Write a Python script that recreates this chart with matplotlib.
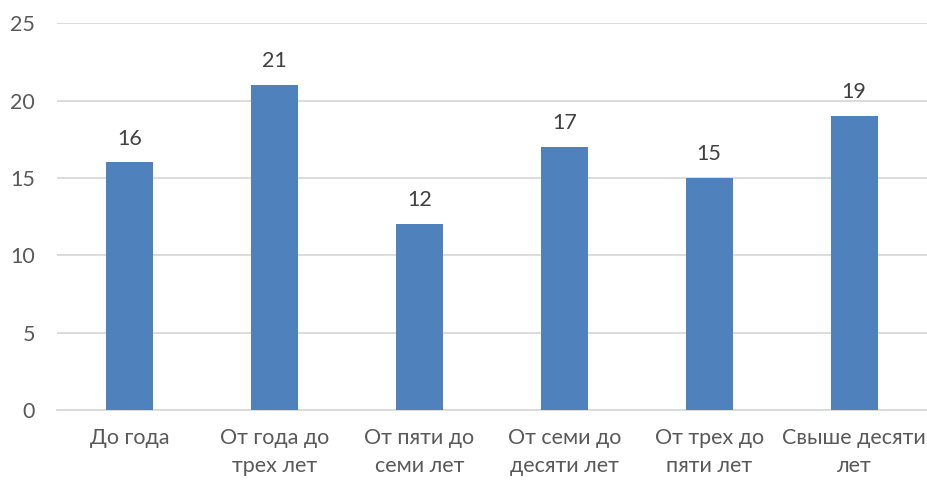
import matplotlib.pyplot as plt
import numpy as np

plt.rcParams["font.family"] = ["Lato", "DejaVu Sans"]

categories = [
    "До года",
    "От года до\nтрех лет",
    "От пяти до\nсеми лет",
    "От семи до\nдесяти лет",
    "От трех до\nпяти лет",
    "Свыше десяти\nлет",
]
values = [16, 21, 12, 17, 15, 19]
y_ticks = [0, 5, 10, 15, 20, 25]

bar_color = "#4F81BD"
text_color = "#595959"
grid_color = "#D9D9D9"

fig = plt.figure(figsize=(9.28, 4.84), dpi=100)
ax = fig.add_axes([0.0615, 0.153, 0.937, 0.799])

x = np.arange(len(categories))
bars = ax.bar(x, values, width=0.325, color=bar_color, zorder=3)

for rect, v in zip(bars, values):
    ax.annotate(str(v), (rect.get_x() + rect.get_width() / 2, v),
                xytext=(0, 10), textcoords="offset points",
                ha="center", va="bottom", fontsize=15.5, color="#404040")

ax.set_xlim(-0.5, len(categories) - 0.5)
ax.set_ylim(0, 25)
ax.set_yticks(y_ticks)
ax.set_xticks(x)
ax.set_xticklabels(categories, fontsize=15.5, color=text_color, linespacing=1.5)
ax.tick_params(axis="y", labelsize=15.5, labelcolor=text_color, length=0, pad=16)
ax.tick_params(axis="x", length=0, pad=13)

ax.yaxis.grid(True, color=grid_color, linewidth=1.3, zorder=0)
for side in ["top", "right", "left"]:
    ax.spines[side].set_visible(False)
ax.spines["bottom"].set_color(grid_color)
ax.spines["bottom"].set_linewidth(1.3)

fig.savefig("out.png", dpi=100)
